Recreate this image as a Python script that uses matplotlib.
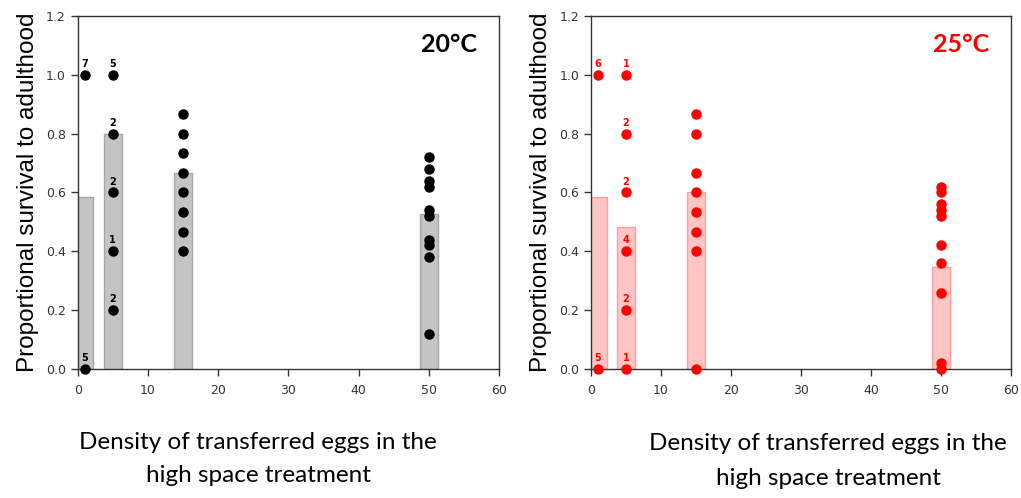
import matplotlib.pyplot as plt
import numpy as np

# densities (x) and per-density survival values
dens = [1, 5, 15, 50]

# 20 C
bars_20 = [0.583, 0.8, 0.667, 0.527]
pts_20 = {
    1: [1.0, 0.0],
    5: [1.0, 0.8, 0.6, 0.4, 0.2],
    15: [0.867, 0.8, 0.733, 0.667, 0.6, 0.533, 0.467, 0.4],
    50: [0.72, 0.68, 0.64, 0.62, 0.54, 0.52, 0.44, 0.42, 0.38, 0.12],
}
counts_20 = {1: ["7", "5"], 5: ["5", "2", "2", "1", "2"]}

# 25 C
bars_25 = [0.583, 0.483, 0.6, 0.346]
pts_25 = {
    1: [1.0, 0.0],
    5: [1.0, 0.8, 0.6, 0.4, 0.2, 0.0],
    15: [0.867, 0.8, 0.667, 0.6, 0.533, 0.467, 0.4, 0.0],
    50: [0.62, 0.6, 0.56, 0.54, 0.52, 0.42, 0.36, 0.26, 0.02, 0.0],
}
counts_25 = {1: ["6", "5"], 5: ["1", "2", "2", "4", "2", "1"]}

ylab = "Proportional survival to adulthood"
xlab = "Density of transferred eggs in the\nhigh space treatment"

fig = plt.figure(figsize=(10.21, 4.98), dpi=100)


def panel(rect, bars, pts, counts, col, fc, ec, temp):
    ax = fig.add_axes(rect)
    ax.bar(dens, bars, width=2.5, color=fc, edgecolor=ec, linewidth=1, zorder=1)
    for d in dens:
        ys = pts[d]
        ax.plot([d] * len(ys), ys, "o", color=col, markersize=6.5, zorder=3, clip_on=False)
        if d in counts:
            for y, c in zip(ys, counts[d]):
                ax.text(d, y + 0.02, c, ha="center", va="bottom", fontsize=7,
                        fontweight="bold", color=col, zorder=4)
    ax.set_xlim(0, 60)
    ax.set_ylim(0, 1.2)
    ax.set_xticks(range(0, 61, 10))
    ax.set_yticks(np.arange(0, 1.21, 0.2))
    ax.set_yticklabels(["%.1f" % v for v in np.arange(0, 1.21, 0.2)])
    ax.tick_params(direction="out", length=5, width=1, labelsize=9,
                   labelcolor="#333333", color="#333333")
    ax.tick_params(axis="x", pad=6)
    for s in ax.spines.values():
        s.set_color("#333333")
        s.set_linewidth(1)
    ax.set_ylabel(ylab, fontsize=17.5, family="Liberation Sans", labelpad=5)
    ax.text(0.948, 0.919, temp, transform=ax.transAxes, ha="right", va="center",
            fontsize=18, fontweight="bold", color=col, family="Lato")
    return ax


panel([0.0761, 0.259, 0.4126, 0.709], bars_20, pts_20, counts_20,
      "black", "#c4c4c4", "#a6a6a6", "20°C")
panel([0.5788, 0.259, 0.4114, 0.709], bars_25, pts_25, counts_25,
      "#ff0000", "#ffc4c4", "#ff9f9f", "25°C")

fig.text(258 / 1021, 1 - 459 / 498, xlab, ha="center", va="center",
         fontsize=17.5, family="Lato", linespacing=1.75)
fig.text(828 / 1021, 1 - 461 / 498, xlab, ha="center", va="center",
         fontsize=17.5, family="Lato", linespacing=1.85)

fig.savefig("out.png", dpi=100)
